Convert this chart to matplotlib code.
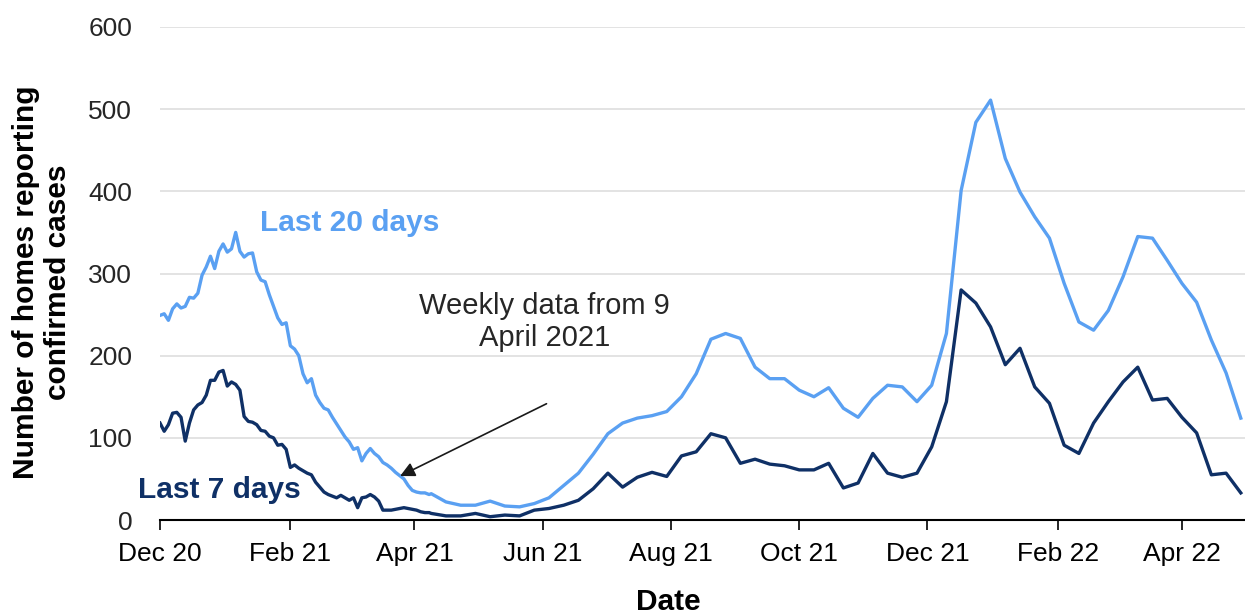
import datetime
import matplotlib
matplotlib.use('Agg')
import matplotlib.pyplot as plt
import matplotlib.dates as mdates
import pandas as pd

plt.rcParams['font.family'] = ['Liberation Sans', 'DejaVu Sans']

# daily readings (every 2nd day) from 1 Dec 2020 to 8 Apr 2021
daily_start = '2020-12-01'
daily_20 = [249, 251, 243, 257, 263, 258, 260, 271, 270, 276,
            298, 308, 321, 306, 327, 336, 326, 330, 350, 327,
            320, 324, 325, 302, 292, 290, 274, 260, 246, 238,
            240, 212, 208, 200, 178, 167, 172, 152, 143, 136,
            134, 125, 117, 109, 101, 95, 86, 88, 72, 81,
            87, 81, 77, 70, 67, 63, 58, 54, 50, 42,
            36, 34, 33, 33, 31]
daily_7 = [118, 108, 116, 130, 131, 125, 96, 118, 134, 140,
           143, 152, 170, 170, 180, 182, 163, 168, 165, 158,
           126, 120, 119, 116, 109, 108, 102, 100, 91, 92,
           86, 64, 67, 63, 60, 57, 55, 46, 40, 34,
           31, 29, 27, 30, 27, 24, 27, 15, 27, 28,
           31, 28, 23, 12, 12, 12, 13, 14, 15, 14,
           13, 12, 10, 9, 9]

# weekly data from 9 April 2021
weekly_start = '2021-04-09'
weekly_20 = [32, 22, 18, 18, 23, 17, 16, 20, 27, 42,
             57, 80, 105, 118, 124, 127, 132, 150, 178, 220,
             227, 221, 186, 172, 172, 158, 150, 161, 136, 125,
             148, 164, 162, 144, 164, 227, 401, 484, 511, 440,
             399, 369, 343, 288, 241, 231, 255, 296, 345, 343,
             316, 288, 265, 219, 179, 124]
weekly_7 = [8, 5, 5, 8, 4, 6, 5, 12, 14, 18,
            24, 38, 57, 40, 52, 58, 53, 78, 83, 105,
            100, 69, 74, 68, 66, 61, 61, 69, 39, 45,
            81, 57, 52, 57, 89, 144, 280, 264, 235, 189,
            209, 162, 142, 91, 81, 118, 144, 168, 186, 146,
            148, 125, 106, 55, 57, 33]

tick_dates = ['2020-12-01', '2021-02-01', '2021-04-01', '2021-06-01', '2021-08-01',
              '2021-10-01', '2021-12-01', '2022-02-01', '2022-04-01']
tick_labels = ['Dec 20', 'Feb 21', 'Apr 21', 'Jun 21', 'Aug 21',
               'Oct 21', 'Dec 21', 'Feb 22', 'Apr 22']

light = '#5aa0f2'
dark = '#0f3066'

d_dates = pd.date_range(daily_start, periods=len(daily_20), freq='2D')
w_dates = pd.date_range(weekly_start, periods=len(weekly_20), freq='7D')
dates = list(d_dates) + list(w_dates)
s20 = daily_20 + weekly_20
s7 = daily_7 + weekly_7

fig = plt.figure(figsize=(12.45, 6.15), dpi=100)
ax = fig.add_axes([160 / 1245, 1 - 520 / 615, 1 - 160 / 1245, (520 - 27) / 615])

ax.plot(dates, s20, color=light, lw=2.4, solid_joinstyle='round')
ax.plot(dates, s7, color=dark, lw=2.4, solid_joinstyle='round')

ax.set_ylim(0, 600)
ax.set_xlim(pd.Timestamp('2020-12-01'), pd.Timestamp('2022-05-01'))
ax.set_yticks(range(0, 601, 100))
ax.set_xticks(pd.to_datetime(tick_dates))
ax.set_xticklabels(tick_labels)
ax.grid(axis='y', color='#dedede', lw=1.2)
ax.set_axisbelow(True)
for s in ['top', 'right', 'left']:
    ax.spines[s].set_visible(False)
ax.spines['bottom'].set_color('black')
ax.spines['bottom'].set_linewidth(1.5)
ax.tick_params(axis='x', length=7, width=1.2, pad=9, labelsize=19, colors='black')
ax.tick_params(axis='y', length=0, pad=20, labelsize=19, labelcolor='#262626')

fig.text(42 / 1245, 1 - 282 / 615, 'Number of homes reporting\nconfirmed cases',
         rotation=90, ha='center', va='center', fontsize=21.5, fontweight='bold',
         linespacing=1.2)
fig.text(668 / 1245, 1 - 602 / 615, 'Date', ha='center', va='center',
         fontsize=21.5, fontweight='bold')

ax.text(pd.Timestamp('2021-03-01'), 362, 'Last 20 days', color=light,
        fontsize=21.5, fontweight='bold', ha='center', va='center')
ax.text(pd.Timestamp('2020-12-29'), 36, 'Last 7 days', color=dark,
        fontsize=21.5, fontweight='bold', ha='center', va='center')

ax.annotate('', xy=(pd.Timestamp('2021-03-24'), 52), xytext=(pd.Timestamp('2021-06-04'), 143),
            arrowprops=dict(arrowstyle='-|>', color='#1a1a1a', lw=1.2, mutation_scale=22))
ax.text(pd.Timestamp('2021-06-02'), 241, 'Weekly data from 9\nApril 2021', color='#262626',
        fontsize=21, ha='center', va='center', linespacing=1.15)

fig.savefig('out.png', dpi=100)
